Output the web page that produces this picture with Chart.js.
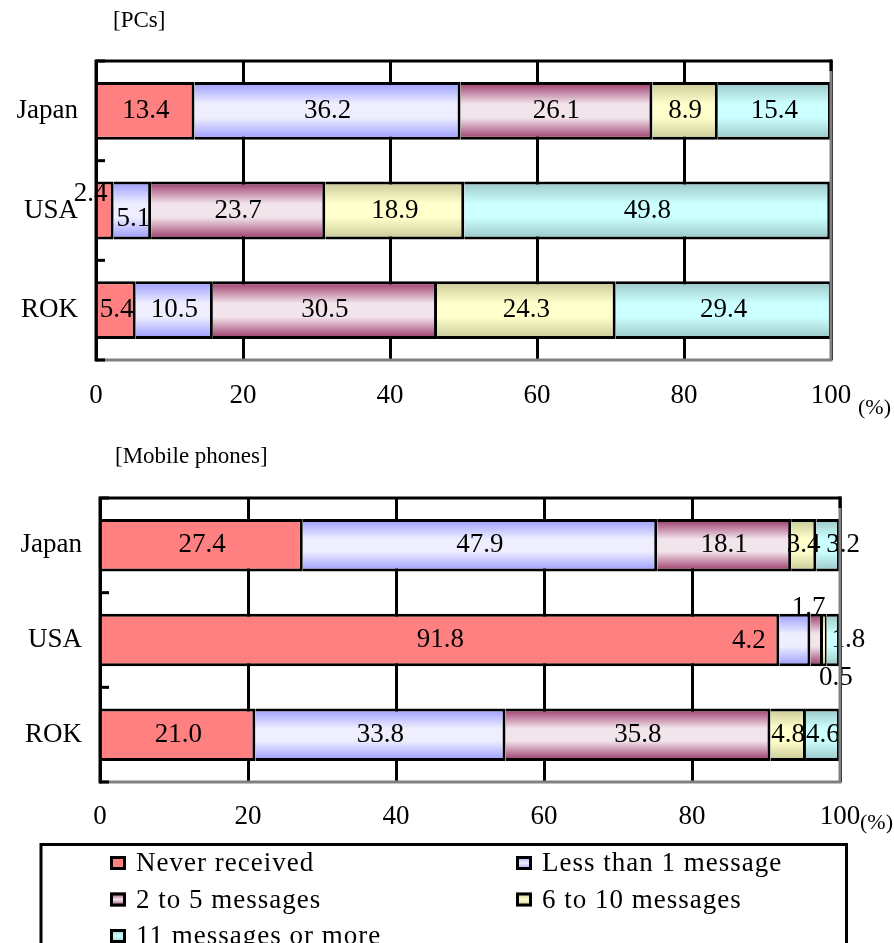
<!DOCTYPE html>
<html>
<head>
<meta charset="utf-8">
<script src="https://cdn.jsdelivr.net/npm/chart.js@4.4.0/dist/chart.umd.min.js"></script>
<style>
  html, body { margin: 0; padding: 0; background: #fff; }
  #wrap { position: relative; width: 894px; height: 943px; overflow: hidden; }
  canvas { position: absolute; left: 0; }
</style>
</head>
<body>
<div id="wrap">
  <canvas id="pcChart" width="894" height="430" style="top:0px"></canvas>
  <canvas id="mobileChart" width="894" height="513" style="top:430px"></canvas>
</div>
<script>
// ---- data ----
const countries = ['Japan', 'USA', 'ROK'];
const seriesNames = ['Never received', 'Less than 1 message', '2 to 5 messages', '6 to 10 messages', '11 messages or more'];
const xTickValues = [0, 20, 40, 60, 80, 100];

// PCs (%)
const pcNever   = [13.4, 2.4, 5.4];
const pcLess1   = [36.2, 5.1, 10.5];
const pc2to5    = [26.1, 23.7, 30.5];
const pc6to10   = [8.9, 18.9, 24.3];
const pc11plus  = [15.4, 49.8, 29.4];

// Mobile phones (%)
const mbNever   = [27.4, 91.8, 21.0];
const mbLess1   = [47.9, 4.2, 33.8];
const mb2to5    = [18.1, 1.7, 35.8];
const mb6to10   = [3.4, 0.5, 4.8];
const mb11plus  = [3.2, 1.8, 4.6];

// ---- styling ----
const FONT = '"Liberation Serif", "Times New Roman", serif';
const palette = [
  { edge: '#FF8080', mid: '#FF8080' },
  { edge: '#9999FF', mid: '#EEEEFF' },
  { edge: '#993366', mid: '#F2E4EB' },
  { edge: '#C8C896', mid: '#FFFFCC' },
  { edge: '#99C6C6', mid: '#CCFFFF' }
];

function verticalGradient(c2d, p, top, bottom) {
  if (p.edge === p.mid) return p.edge;
  const g = c2d.createLinearGradient(0, top, 0, bottom);
  g.addColorStop(0, p.edge);
  g.addColorStop(0.38, p.mid);
  g.addColorStop(0.62, p.mid);
  g.addColorStop(1, p.edge);
  return g;
}

// Bar fill shaded top/bottom like a cylinder, sized from the category scale
function barFill(si, pct) {
  return (ctx) => {
    const p = palette[si];
    const chart = ctx.chart;
    const y = chart.scales && chart.scales.y;
    if (ctx.type !== 'data' || !y || !chart.chartArea) return p.mid;
    const band = y.height / countries.length;
    const c = y.getPixelForValue(ctx.dataIndex);
    const half = band * pct / 2;
    return verticalGradient(chart.ctx, p, c - half, c + half);
  };
}

function makeDatasets(values, pct) {
  return values.map((vals, si) => ({
    label: seriesNames[si],
    data: vals,
    backgroundColor: barFill(si, pct),
    borderColor: '#000',
    borderWidth: 3,
    borderSkipped: 'start',
    categoryPercentage: 1.0,
    barPercentage: pct
  }));
}

// value labels, frame, titles and legend
const decorPlugin = {
  id: 'decor',
  afterDatasetsDraw(chart, args, opts) {
    const c = chart.ctx;
    const area = chart.chartArea;
    const yScale = chart.scales.y;

    // value labels
    c.save();
    c.font = '27px ' + FONT;
    c.fillStyle = '#000';
    c.textAlign = 'center';
    c.textBaseline = 'middle';
    chart.data.datasets.forEach((ds, di) => {
      const meta = chart.getDatasetMeta(di);
      meta.data.forEach((el, i) => {
        const v = ds.data[i];
        const pt = el.getCenterPoint();
        const shift = (opts.labelShift || {})[di + ',' + i] || [0, 0];
        c.fillText(v.toFixed(1), pt.x + shift[0], pt.y + shift[1]);
      });
    });
    c.restore();

    // frame
    c.save();
    c.lineCap = 'butt';
    c.lineWidth = 3;
    c.strokeStyle = '#808080';
    c.beginPath();
    c.moveTo(area.left, area.bottom);
    c.lineTo(area.right, area.bottom);
    c.lineTo(area.right, area.top);
    c.stroke();
    c.strokeStyle = '#000';
    c.beginPath();
    c.moveTo(area.left, area.bottom + 1.5);
    c.lineTo(area.left, area.top);
    c.lineTo(area.right + 1.5, area.top);
    c.stroke();
    c.beginPath();
    c.moveTo(area.right, area.top - 1.5);
    c.lineTo(area.right, area.top + 10);
    c.stroke();
    // short ticks at category boundaries
    const ys = [area.top];
    for (let i = 0; i < countries.length - 1; i++) {
      ys.push((yScale.getPixelForValue(i) + yScale.getPixelForValue(i + 1)) / 2);
    }
    ys.push(area.bottom);
    ys.forEach((y) => {
      c.beginPath();
      c.moveTo(area.left, y);
      c.lineTo(area.left + 9, y);
      c.stroke();
    });
    c.restore();
  },
  afterDraw(chart, args, opts) {
    const c = chart.ctx;
    const area = chart.chartArea;
    c.save();
    c.fillStyle = '#000';
    c.textBaseline = 'middle';
    c.textAlign = 'left';
    if (opts.title) {
      c.font = '23px ' + FONT;
      c.fillText(opts.title, opts.titleX, opts.titleY);
    }
    // unit after the last tick label
    c.font = '22px ' + FONT;
    c.fillText('(%)', opts.unitX, area.bottom + opts.unitDy);
    c.restore();

    if (opts.legend) {
      const L = opts.legend;
      c.save();
      c.lineWidth = 3;
      c.strokeStyle = '#000';
      c.strokeRect(L.left, L.top, L.right - L.left, L.bottom - L.top);
      c.font = '27px ' + FONT;
      if ('letterSpacing' in c) c.letterSpacing = '1px';
      c.textBaseline = 'middle';
      c.textAlign = 'left';
      seriesNames.forEach((name, si) => {
        const col = si % 2, row = Math.floor(si / 2);
        const mx = L.cols[col], my = L.rows[row];
        const p = palette[si];
        const g = c.createLinearGradient(0, my - 7, 0, my + 7);
        g.addColorStop(0, p.edge);
        g.addColorStop(0.5, p.mid);
        g.addColorStop(1, p.edge);
        c.fillStyle = g;
        c.fillRect(mx, my - 7, 16, 14);
        c.strokeRect(mx + 1.5, my - 5.5, 13, 11);
        c.fillStyle = '#000';
        c.fillText(name, mx + 26, my + 1);
      });
      c.restore();
    }
  }
};

function buildChart(canvasId, values, cfg) {
  return new Chart(document.getElementById(canvasId), {
    type: 'bar',
    data: { labels: countries, datasets: makeDatasets(values, cfg.pct) },
    plugins: [decorPlugin],
    options: {
      indexAxis: 'y',
      responsive: false,
      animation: false,
      devicePixelRatio: 1,
      layout: { padding: { top: cfg.padTop, right: cfg.padRight, left: 0, bottom: 0 } },
      scales: {
        x: {
          type: 'linear',
          stacked: true,
          min: 0,
          max: 100,
          afterBuildTicks: (s) => { s.ticks = xTickValues.map((v) => ({ value: v })); },
          afterFit: (s) => { s.height = cfg.xHeight; },
          ticks: {
            font: { family: FONT, size: 27 },
            color: '#000',
            padding: cfg.xPad,
            maxRotation: 0
          },
          grid: { color: '#000', lineWidth: 3, drawTicks: false },
          border: { display: false }
        },
        y: {
          stacked: true,
          afterFit: (s) => { s.width = cfg.yWidth; },
          ticks: {
            font: { family: FONT, size: 27 },
            color: '#000',
            padding: 18
          },
          grid: { display: false, drawTicks: false },
          border: { display: false }
        }
      },
      plugins: {
        legend: { display: false },
        tooltip: { enabled: false },
        decor: cfg.decor
      }
    }
  });
}

buildChart('pcChart', [pcNever, pcLess1, pc2to5, pc6to10, pc11plus], {
  pct: 0.58, padTop: 61, padRight: 63, xHeight: 70, yWidth: 96, xPad: 20,
  decor: {
    title: '[PCs]', titleX: 113, titleY: 21,
    unitX: 858, unitDy: 48,
    labelShift: { '0,1': [-15, -17], '1,1': [1, 8] }
  }
});

buildChart('mobileChart', [mbNever, mbLess1, mb2to5, mb6to10, mb11plus], {
  pct: 0.555, padTop: 68, padRight: 54, xHeight: 161, yWidth: 100, xPad: 19,
  decor: {
    title: '[Mobile phones]', titleX: 115, titleY: 27,
    unitX: 860, unitDy: 41,
    labelShift: { '4,0': [15, 0], '1,1': [-46, 1], '2,1': [-8, -32], '3,1': [11, 38], '4,1': [15, 0] },
    legend: { left: 41, top: 414.5, right: 846.5, bottom: 530, cols: [110, 516], rows: [433, 469.5, 506] }
  }
});
</script>
</body>
</html>
